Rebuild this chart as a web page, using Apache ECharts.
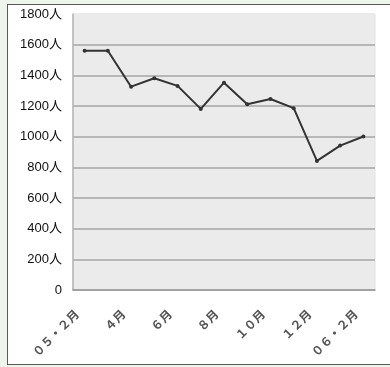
<!DOCTYPE html>
<html><head><meta charset="utf-8">
<script src="https://cdn.jsdelivr.net/npm/echarts@6/dist/echarts.min.js"></script>
<style>
html,body{margin:0;padding:0;width:390px;height:367px;background:#eef5ec;overflow:hidden;}
#frame{position:absolute;left:7px;top:4px;width:390px;height:359px;border:1px solid #5a5a5a;border-right:none;background:#fff;}
#chart{position:absolute;left:0;top:0;width:390px;height:367px;}
</style></head>
<body><div id="frame"></div><div id="chart"></div>
<script>
var categories = ['０５・２月','３月','４月','５月','６月','７月','８月','９月','１０月','１１月','１２月','１月','０６・２月'];
var values = [1560, 1560, 1326, 1381, 1331, 1181, 1352, 1212, 1246, 1186, 842, 942, 1001];
var yTicks = {min: 0, max: 1800, interval: 200, unit: '人'};

var grid = '#a6a6a6', bg = '#ebebeb';
var chart = echarts.init(document.getElementById('chart'));
chart.setOption({
  animation: false,
  grid: {left: 73, right: 15, top: 14, bottom: 77, show: true, backgroundColor: bg, borderColor: '#e2e2e2', borderWidth: 1},
  xAxis: {
    type: 'category', data: categories, boundaryGap: true,
    axisLine: {lineStyle: {color: '#9a9a9a', width: 1.5}},
    axisTick: {inside: true, length: 3, interval: 0, lineStyle: {color: '#a0a0a0'}},
    axisLabel: {interval: 1, rotate: 45, fontSize: 12, fontWeight: 'bold', color: '#555', margin: 14,
      padding: [0, 11, 0, 0],
      fontFamily: '"Noto Sans CJK JP", sans-serif'}
  },
  yAxis: {
    type: 'value', min: yTicks.min, max: yTicks.max, interval: yTicks.interval,
    axisLine: {show: true, lineStyle: {color: '#b4b4b4', width: 1.5}},
    axisTick: {show: false},
    splitLine: {lineStyle: {color: [grid, grid, grid, grid, grid, grid, grid, grid, grid, bg], width: 1.5}},
    axisLabel: {fontSize: 13, color: '#111', margin: 11, fontFamily: '"Liberation Sans", "Noto Sans CJK JP", sans-serif',
      formatter: function (v) { return v === 0 ? '0' : v + yTicks.unit; }}
  },
  series: [{
    type: 'line', data: values,
    symbol: 'circle', symbolSize: 4,
    lineStyle: {color: '#333', width: 2},
    itemStyle: {color: '#333'}
  }]
});
</script></body></html>
